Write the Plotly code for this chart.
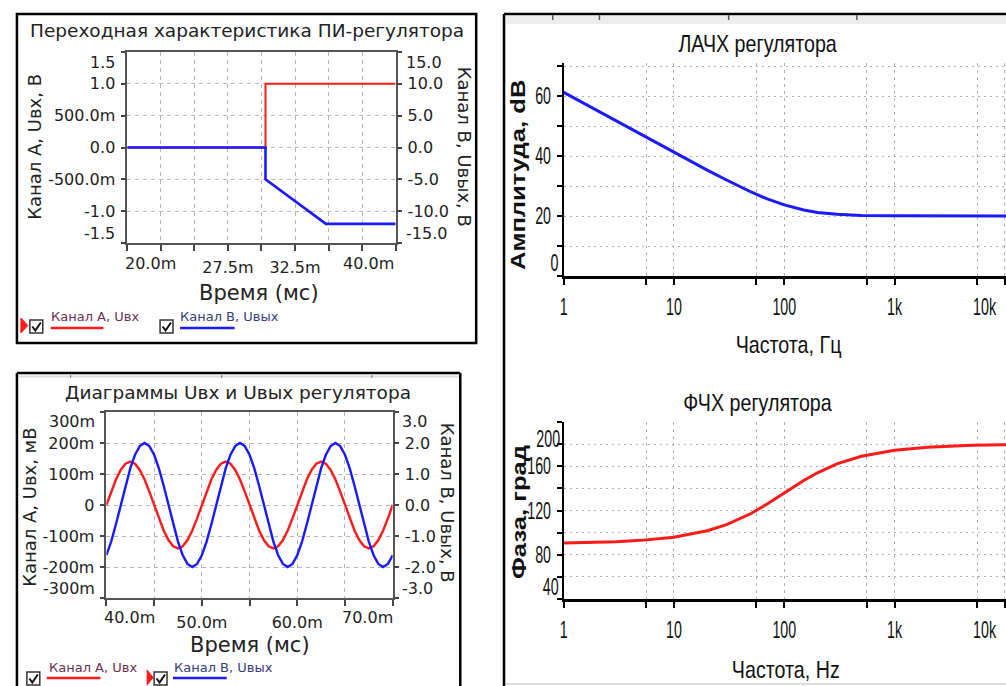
import math
import plotly.graph_objects as go

W, H = 1006, 686


def X(p):
    return p / W


def Y(p):
    return 1 - p / H


# ------------------------------------------------------------------ data
# Panel 1: step response of PI regulator (time in ms)
step_t_in = [20.0, 30.3, 30.3, 40.0]
step_u_in = [0.0, 0.0, 1.0, 1.0]
step_t_out = [20.0, 30.3, 30.3, 34.8, 40.0]
step_u_out = [0.0, 0.0, -5.0, -12.0, -12.0]
p1_xticks = [20.0, 22.5, 25.0, 27.5, 30.0, 32.5, 35.0, 37.5, 40.0]
p1_xtext = ["", "", "", "27.5m", "", "32.5m", "", "", ""]
p1_xedge_vals = [20.0, 40.0]
p1_xedge_text = ["20.0m", "40.0m"]
p1_yticks = [-1.5, -1.0, -0.5, 0.0, 0.5, 1.0, 1.5]
p1_ytext = ["", "-1.0", "-500.0m", "0.0", "500.0m", "1.0", ""]
p1_yedge_vals = [1.5, -1.5]
p1_yedge_text = ["1.5", "-1.5"]
p1_y2ticks = [-15, -10, -5, 0, 5, 10, 15]
p1_y2text = ["", "-10.0", "-5.0", "0.0", "5.0", "10.0", ""]
p1_y2edge_vals = [15, -15]
p1_y2edge_text = ["15.0", "-15.0"]

# Panel 2: sine input / output (time in ms)
sine_t = [40.0, 40.5, 41.0, 41.5, 42.0, 42.5, 43.0, 43.5, 44.0, 44.5,
          45.0, 45.5, 46.0, 46.5, 47.0, 47.5, 48.0, 48.5, 49.0, 49.5,
          50.0, 50.5, 51.0, 51.5, 52.0, 52.5, 53.0, 53.5, 54.0, 54.5,
          55.0, 55.5, 56.0, 56.5, 57.0, 57.5, 58.0, 58.5, 59.0, 59.5,
          60.0, 60.5, 61.0, 61.5, 62.0, 62.5, 63.0, 63.5, 64.0, 64.5,
          65.0, 65.5, 66.0, 66.5, 67.0, 67.5, 68.0, 68.5, 69.0, 69.5, 70.0]
sine_in = [0.000, 0.043, 0.082, 0.113, 0.133, 0.140, 0.133, 0.113, 0.082, 0.043,
           0.000, -0.043, -0.082, -0.113, -0.133, -0.140, -0.133, -0.113, -0.082, -0.043,
           0.000, 0.043, 0.082, 0.113, 0.133, 0.140, 0.133, 0.113, 0.082, 0.043,
           0.000, -0.043, -0.082, -0.113, -0.133, -0.140, -0.133, -0.113, -0.082, -0.043,
           0.000, 0.043, 0.082, 0.113, 0.133, 0.140, 0.133, 0.113, 0.082, 0.043,
           0.000, -0.043, -0.082, -0.113, -0.133, -0.140, -0.133, -0.113, -0.082, -0.043,
           0.000]
sine_out = [-1.62, -1.18, -0.62, 0.00, 0.62, 1.18, 1.62, 1.90, 2.00, 1.90,
            1.62, 1.18, 0.62, 0.00, -0.62, -1.18, -1.62, -1.90, -2.00, -1.90,
            -1.62, -1.18, -0.62, 0.00, 0.62, 1.18, 1.62, 1.90, 2.00, 1.90,
            1.62, 1.18, 0.62, 0.00, -0.62, -1.18, -1.62, -1.90, -2.00, -1.90,
            -1.62, -1.18, -0.62, 0.00, 0.62, 1.18, 1.62, 1.90, 2.00, 1.90,
            1.62, 1.18, 0.62, 0.00, -0.62, -1.18, -1.62, -1.90, -2.00, -1.90,
            -1.62]
p2_xticks = [40, 45, 50, 55, 60, 65, 70]
p2_xtext = ["", "", "50.0m", "", "60.0m", "", ""]
p2_xedge_vals = [40, 70]
p2_xedge_text = ["40.0m", "70.0m"]
p2_yticks = [-0.3, -0.2, -0.1, 0.0, 0.1, 0.2, 0.3]
p2_ytext = ["", "-200m", "-100m", "0", "100m", "200m", ""]
p2_yedge_vals = [0.3, -0.3]
p2_yedge_text = ["300m", "-300m"]
p2_y2ticks = [-3, -2, -1, 0, 1, 2, 3]
p2_y2text = ["", "-2.0", "-1.0", "0.0", "1.0", "2.0", ""]
p2_y2edge_vals = [3, -3]
p2_y2edge_text = ["3.0", "-3.0"]

# Panels 3/4: Bode diagram
freq = [1, 2, 3, 5, 7, 10, 20, 30, 50, 70, 100, 150, 200, 300, 500,
        1000, 2000, 5000, 10000, 20000]
gain_db = [61.2, 55.2, 51.7, 47.2, 44.3, 41.2, 35.3, 32.0, 28.0, 25.7, 23.7,
           22.0, 21.2, 20.6, 20.2, 20.1, 20.0, 20.0, 20.0, 20.0]
phase_deg = [90.6, 91.2, 91.8, 93.0, 94.1, 95.9, 101.7, 107.2, 117.3, 125.8,
             135.9, 147.1, 154.1, 162.1, 169.0, 174.5, 177.2, 178.9, 179.4, 179.7]
f_ticks = [1, 5.6, 10, 56, 100, 560, 1000, 5600, 10000]
f_text = ["1", "", "10", "", "100", "", "1k", "", ""]
f_edge_vals = [10000]
f_edge_text = ["10k"]
g_ticks = [0, 10, 20, 30, 40, 50, 60, 70]
g_text = ["", "", "20", "", "40", "", "60", ""]
g_edge_vals = [0]
g_edge_text = ["0"]
ph_ticks = [40, 60, 80, 100, 120, 140, 160, 180, 200]
ph_text = ["", "", "80", "", "120", "", "160", "", ""]
ph_edge_vals = [200, 40]
ph_edge_text = ["200", "40"]

RED = "#ff1a1a"
BLUE = "#1a1aff"
LFONT = "DejaVu Sans"
NFONT = "Liberation Sans"

fig = go.Figure()

# ------------------------------------------------------------------ traces
fig.add_trace(go.Scatter(x=step_t_in, y=step_u_in, mode="lines",
                         line=dict(color=RED, width=2), xaxis="x", yaxis="y"))
fig.add_trace(go.Scatter(x=step_t_out, y=step_u_out, mode="lines",
                         line=dict(color=BLUE, width=2.6), xaxis="x", yaxis="y2"))
fig.add_trace(go.Scatter(x=sine_t, y=sine_in, mode="lines",
                         line=dict(color=RED, width=2.4), xaxis="x3", yaxis="y3"))
fig.add_trace(go.Scatter(x=sine_t, y=sine_out, mode="lines",
                         line=dict(color=BLUE, width=2.4), xaxis="x3", yaxis="y4"))
fig.add_trace(go.Scatter(x=freq, y=gain_db, mode="lines",
                         line=dict(color=BLUE, width=3), xaxis="x5", yaxis="y5"))
fig.add_trace(go.Scatter(x=freq, y=phase_deg, mode="lines",
                         line=dict(color=RED, width=3), xaxis="x6", yaxis="y6"))

# ------------------------------------------------------------------ axes
lt = dict(family=LFONT, size=16, color="#222")
nt = dict(family=NFONT, size=23, color="#111")

left_x = dict(showline=True, mirror=True, linecolor="#555", linewidth=1.5,
              ticks="outside", ticklen=6, tickcolor="#444", tickwidth=1.5,
              showgrid=True, gridcolor="#b5b5b5", griddash="4px,4px", gridwidth=1,
              zeroline=False, tickfont=lt, tickmode="array", ticklabelstandoff=3)
left_y = dict(showline=True, mirror=True, linecolor="#555", linewidth=1.5,
              ticks="outside", ticklen=5, tickcolor="#444", tickwidth=1.5,
              showgrid=True, gridcolor="#b5b5b5", griddash="4px,4px", gridwidth=1,
              zeroline=False, tickfont=lt, tickmode="array", ticklabelstandoff=2)
right_y = dict(side="right", showline=True, linecolor="#555",
               linewidth=1.5, ticks="outside", ticklen=5, tickcolor="#444",
               tickwidth=1.5, showgrid=False, zeroline=False, tickfont=lt,
               tickmode="array", ticklabelstandoff=2)

bode_x = dict(type="log", showline=True, linecolor="#000", linewidth=3,
              ticks="outside", ticklen=6, tickwidth=2, tickcolor="#000",
              showgrid=True, gridcolor="#b0b0b0", griddash="3px,4px", gridwidth=1,
              zeroline=False, tickfont=nt, tickmode="array",
              tickvals=f_ticks, ticktext=f_text, range=[0, 4.01],
              ticklabelstandoff=2)
bode_y = dict(showline=True, linecolor="#000", linewidth=2, ticks="outside",
              ticklen=5, tickwidth=2, tickcolor="#000", showgrid=True,
              gridcolor="#b0b0b0", griddash="2px,4px", gridwidth=1,
              zeroline=False, tickfont=nt, tickmode="array", ticklabelstandoff=1)

fig.update_layout(
    width=W, height=H, margin=dict(l=0, r=0, t=0, b=0),
    paper_bgcolor="white", plot_bgcolor="white", showlegend=False,
    xaxis=dict(left_x, domain=[X(122), X(392)], range=[20, 40],
               tickvals=p1_xticks, ticktext=p1_xtext, anchor="y"),
    yaxis=dict(left_y, domain=[Y(243), Y(52)], range=[-1.5, 1.5],
               tickvals=p1_yticks, ticktext=p1_ytext, anchor="x"),
    yaxis2=dict(right_y, overlaying="y", anchor="x", range=[-15, 15],
                tickvals=p1_y2ticks, ticktext=p1_y2text),
    xaxis3=dict(left_x, domain=[X(101), X(389)], range=[40, 70],
                tickvals=p2_xticks, ticktext=p2_xtext, anchor="y3"),
    yaxis3=dict(left_y, domain=[Y(598), Y(412)], range=[-0.3, 0.3],
                tickvals=p2_yticks, ticktext=p2_ytext, anchor="x3"),
    yaxis4=dict(right_y, overlaying="y3", anchor="x3", range=[-3, 3],
                tickvals=p2_y2ticks, ticktext=p2_y2text),
    xaxis5=dict(bode_x, domain=[X(561), 1.0], anchor="y5"),
    yaxis5=dict(bode_y, domain=[Y(276), Y(63)], range=[0, 71],
                tickvals=g_ticks, ticktext=g_text, anchor="x5"),
    xaxis6=dict(bode_x, domain=[X(561), 1.0], anchor="y6"),
    yaxis6=dict(bode_y, domain=[Y(599), Y(422)], range=[40, 200],
                tickvals=ph_ticks, ticktext=ph_text, anchor="x6"),
)

# ------------------------------------------------------------------ text
ann = []


def txt(x, y, s, size, family=LFONT, angle=0, color="#222", xanchor="center",
        weight="normal"):
    ann.append(dict(x=X(x), y=Y(y), xref="paper", yref="paper", text=s,
                    showarrow=False, textangle=angle, xanchor=xanchor,
                    yanchor="middle",
                    font=dict(family=family, size=size, color=color, weight=weight)))


def xedge(vals, texts, xref, ypix, shifts, font, anchor="center"):
    for v, s, sh in zip(vals, texts, shifts):
        ann.append(dict(x=v, xref=xref, y=Y(ypix), yref="paper", text=s, xshift=sh,
                        showarrow=False, yanchor="middle", xanchor=anchor, font=font))


def yedge(vals, texts, yref, xpix, anchor, shifts, font):
    for v, s, sh in zip(vals, texts, shifts):
        ann.append(dict(x=X(xpix), xref="paper", y=v, yref=yref, text=s, yshift=sh,
                        showarrow=False, xanchor=anchor, font=font))


# edge tick labels (drawn inset, as in the original)
xedge(p1_xedge_vals, p1_xedge_text, "x", 263, [23, -27], lt)
yedge(p1_yedge_vals, p1_yedge_text, "y", 112, "right", [-10, 10], lt)
yedge(p1_y2edge_vals, p1_y2edge_text, "y2", 400, "left", [-10, 10], lt)
xedge(p2_xedge_vals, p2_xedge_text, "x3", 617, [23, -25], lt)
yedge(p2_yedge_vals, p2_yedge_text, "y3", 92, "right", [-10, 10], lt)
yedge(p2_y2edge_vals, p2_y2edge_text, "y4", 396, "left", [-10, 10], lt)
# log axes: annotation positions are given in log10 units
f_edge_log = [math.log10(v) for v in f_edge_vals]
xedge(f_edge_log, f_edge_text, "x5", 307, [1], nt, anchor="right")
xedge(f_edge_log, f_edge_text, "x6", 630, [1], nt, anchor="right")
yedge(g_edge_vals, g_edge_text, "y5", 552, "center", [13], nt)
yedge(ph_edge_vals[:1], ph_edge_text[:1], "y6", 545, "center", [-17], nt)
yedge(ph_edge_vals[1:], ph_edge_text[1:], "y6", 548, "center", [12], nt)

# panel 1
txt(242, 31, "Переходная характеристика ПИ-регулятора", 18.5)
txt(28, 147, "Канал А, Uвх, В", 18, angle=-90)
txt(462, 147, "Канал В, Uвых, В", 18, angle=90)
txt(255, 293, "Время (мс)", 21)
# panel 2
txt(233, 392, "Диаграммы Uвх и Uвых регулятора", 18.5)
txt(23, 507, "Канал А, Uвх, мВ", 18, angle=-90)
txt(445, 503, "Канал В, Uвых, В", 18, angle=90)
txt(245, 645, "Время (мс)", 21)
# panel 3
txt(757, 43, "ЛАЧХ регулятора", 24, family=NFONT, color="#111")
txt(515, 175, "Амплитуда, dB", 21, family=NFONT, angle=-90, color="#111",
    weight="bold")
txt(787, 344, "Частота, Гц", 24, family=NFONT, color="#111")
# panel 4
txt(757, 402, "ФЧХ регулятора", 24, family=NFONT, color="#111")
txt(515, 512, "Фаза, град", 21, family=NFONT, angle=-90, color="#111",
    weight="bold")
txt(785, 669, "Частота, Hz", 24, family=NFONT, color="#111")

# legends text
txt(43, 316, "Канал А, Uвх", 13, color="#6a3050", xanchor="left")
txt(173, 316, "Канал В, Uвых", 13, color="#34407a", xanchor="left")
txt(41, 667, "Канал А, Uвх", 13, color="#6a3050", xanchor="left")
txt(167, 667, "Канал В, Uвых", 13, color="#34407a", xanchor="left")

# ------------------------------------------------------------------ decorations
shapes = []


def rect(x0, y0, x1, y1, line="#000", lw=2, fill=None):
    shapes.append(dict(type="rect", xref="paper", yref="paper", x0=X(x0), x1=X(x1),
                       y0=Y(y1), y1=Y(y0), line=dict(color=line, width=lw),
                       fillcolor=fill, layer="above"))


def seg(x0, y0, x1, y1, color="#000", lw=2):
    shapes.append(dict(type="line", xref="paper", yref="paper", x0=X(x0), x1=X(x1),
                       y0=Y(y0), y1=Y(y1), line=dict(color=color, width=lw)))


def path(pts, color, fill=None, lw=2):
    d = "M " + " L ".join(f"{X(a):.5f},{Y(b):.5f}" for a, b in pts)
    if fill:
        d += " Z"
    shapes.append(dict(type="path", xref="paper", yref="paper", path=d,
                       line=dict(color=color, width=lw), fillcolor=fill))


# panel frames (kept inside the page)
rect(11, 14, 473, 343, lw=2.5)
seg(11, 373, 457, 373, lw=2.5)
seg(11, 373, 11, 686, lw=2.5)
seg(457, 373, 457, 686, lw=2.5)
seg(12.5, 376.5, 455.5, 376.5, color="#dddddd", lw=2)
for xx in (65, 217, 368):
    seg(xx, 375, xx, 378, color="#777", lw=1)
seg(501, 14, 501, 686, lw=2.5)
seg(501, 14, 1006, 14, lw=2.5)
rect(503, 16, 1006, 24, line="rgba(0,0,0,0)", lw=0, fill="#ededed")
for xx in (550, 597, 727, 856):
    seg(xx, 15, xx, 20, color="#555", lw=1.5)
seg(503, 684, 1006, 684, color="#dddddd", lw=2)


def checkbox(x0, y0):
    rect(x0, y0, x0 + 13, y0 + 13, line="#333", lw=1.5, fill="white")
    path([(x0 + 2.5, y0 + 6.5), (x0 + 5.5, y0 + 10.5), (x0 + 11, y0 + 2.5)], "#111", lw=2)


# legend panel 1
path([(15, 318), (22, 325.5), (15, 333)], RED, fill=RED, lw=1)
checkbox(24, 320)
seg(45, 328, 98, 328, color=RED, lw=2.5)
checkbox(155, 320)
seg(175, 328, 230, 328, color=BLUE, lw=2.5)
# legend panel 2
checkbox(21, 672)
seg(41, 678, 95, 678, color=RED, lw=2.5)
path([(142, 670), (148, 677.5), (142, 685)], RED, fill=RED, lw=1)
checkbox(149, 672)
seg(168, 678, 222, 678, color=BLUE, lw=2.5)

fig.update_layout(annotations=ann, shapes=shapes)

# page without body margin; narrow (condensed) rendering of the Bode-plot texts
post = """
document.documentElement.style.margin='0';
document.documentElement.style.overflow='hidden';
document.body.style.margin='0';
document.body.style.padding='0';
document.body.style.overflow='hidden';
(function(){
  var gd = document.getElementById('{plot_id}');
  var SC = {'23px': 0.62, '24px': 0.82, '21px': 1.22};
  function apply(){
    var ts = gd.querySelectorAll('text');
    for (var i = 0; i < ts.length; i++) {
      var t = ts[i];
      if (t.getAttribute('data-sx')) continue;
      var fam = t.style.fontFamily || '';
      if (fam.indexOf('Liberation Sans') < 0) continue;
      var s = SC[t.style.fontSize];
      if (!s) continue;
      var x = parseFloat(t.getAttribute('x')) || 0;
      var tr = t.getAttribute('transform') || '';
      t.setAttribute('transform', tr + ' translate(' + x + ',0) scale(' + s + ',1) translate(' + (-x) + ',0)');
      t.setAttribute('data-sx', '1');
    }
  }
  apply();
  setTimeout(apply, 30);
  setTimeout(apply, 300);
  if (gd.on) { gd.on('plotly_afterplot', apply); }
})();
"""
fig.write_html("out.html", post_script=post, config={"displayModeBar": False})
